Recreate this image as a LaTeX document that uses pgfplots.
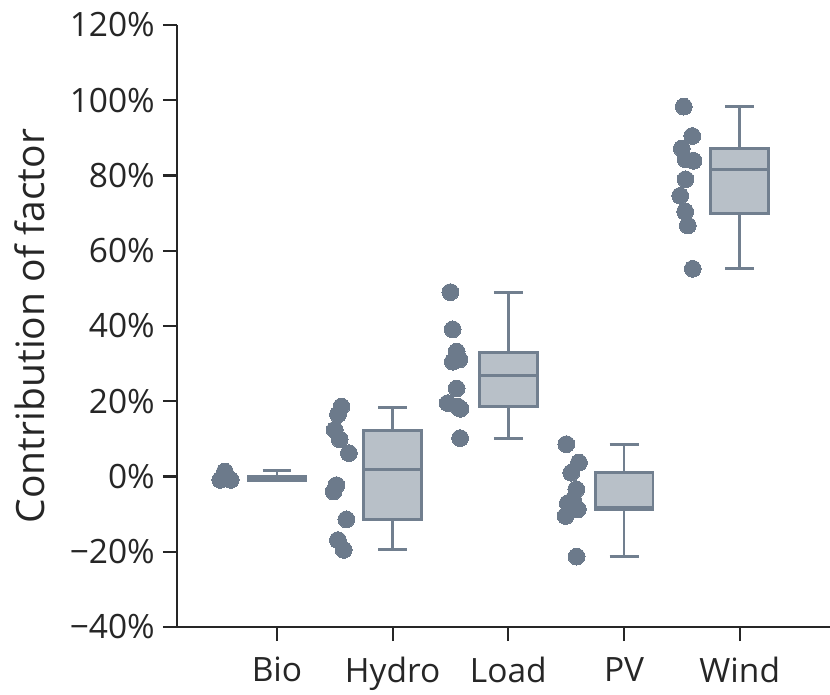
\documentclass[border=0pt]{standalone}
\usepackage{fontspec}
\setmainfont{Open Sans}
\usepackage{pgfplots}
\usepgfplotslibrary{statistics}
\pgfplotsset{compat=1.18}
\definecolor{dotcol}{RGB}{108,122,139}
\definecolor{edgecol}{RGB}{113,127,143}
\definecolor{boxcol}{RGB}{184,192,200}
\definecolor{inkcol}{RGB}{38,38,38}

\begin{document}
\begin{tikzpicture}
\begin{axis}[
    at={(0,0)}, anchor=south west,
    scale only axis, width=653pt, height=602pt,
    xmin=-0.864, xmax=4.78, ymin=-40, ymax=120,
    axis x line*=bottom, axis y line*=left,
    axis line style={-, line width=2.5pt, inkcol},
    xtick={0,1,2,3,4},
    xticklabels={Bio,Hydro,Load,PV,Wind},
    ytick={-40,-20,0,20,40,60,80,100,120},
    yticklabels={−40\%,−20\%,0\%,20\%,40\%,60\%,80\%,100\%,120\%},
    tick align=outside, major tick length=14pt,
    tick style={line width=2.2pt, inkcol},
    ticklabel style={font=\fontsize{33.5}{40}\selectfont, text=inkcol},
    xticklabel style={inner sep=2pt, yshift=-14pt},
    yticklabel style={inner sep=2pt, xshift=-6pt},
    ylabel={Contribution of factor},
    ylabel style={at={(axis description cs:-0.226,0.5)}, anchor=center,
        font=\fontsize{39}{46}\selectfont, text=inkcol},
    boxplot/draw direction=y,
    boxplot/every box/.style={draw=edgecol, fill=boxcol, line width=2.8pt},
    boxplot/every whisker/.style={draw=edgecol, line width=2.8pt},
    boxplot/every median/.style={draw=edgecol, line width=2.8pt},
    clip=false,
]

% boxes (right of each tick)
\addplot[draw=edgecol, line width=2.8pt, boxplot prepared={
    lower whisker=-1.2, lower quartile=-1.0, median=-0.7,
    upper quartile=0.0, upper whisker=1.5,
    draw position=0, box extend=0.5, whisker extend=0.25}] coordinates {};
\addplot[draw=edgecol, line width=2.8pt, boxplot prepared={
    lower whisker=-19.5, lower quartile=-11.4, median=1.9,
    upper quartile=12.2, upper whisker=18.4,
    draw position=1, box extend=0.5, whisker extend=0.25}] coordinates {};
\addplot[draw=edgecol, line width=2.8pt, boxplot prepared={
    lower whisker=10.2, lower quartile=18.6, median=26.8,
    upper quartile=32.9, upper whisker=49.0,
    draw position=2, box extend=0.5, whisker extend=0.25}] coordinates {};
\addplot[draw=edgecol, line width=2.8pt, boxplot prepared={
    lower whisker=-21.3, lower quartile=-8.9, median=-8.2,
    upper quartile=1.1, upper whisker=8.6,
    draw position=3, box extend=0.5, whisker extend=0.25}] coordinates {};
\addplot[draw=edgecol, line width=2.8pt, boxplot prepared={
    lower whisker=55.2, lower quartile=70.0, median=81.7,
    upper quartile=87.2, upper whisker=98.3,
    draw position=4, box extend=0.5, whisker extend=0.25}] coordinates {};

% individual values (left of each tick)
\pgfplotsset{dots/.style={only marks, mark=*, mark size=8.4pt,
    color=dotcol, mark options={draw=dotcol, fill=dotcol, line width=0pt}}}
\addplot[dots] coordinates {
    (-0.45,1.3) (-0.49,-0.9) (-0.40,-0.9) (-0.43,-0.3) (-0.46,0.2)};
\addplot[dots] coordinates {
    (0.557,18.6) (0.527,16.5) (0.499,12.4) (0.542,9.9) (0.622,6.2)
    (0.514,-2.3) (0.490,-4.0) (0.600,-11.4) (0.527,-16.9) (0.577,-19.5)};
\addplot[dots] coordinates {
    (1.499,49.0) (1.519,39.1) (1.553,33.2) (1.577,31.1) (1.520,30.5)
    (1.553,23.4) (1.476,19.5) (1.562,18.6) (1.585,18.0) (1.583,10.2)};
\addplot[dots] coordinates {
    (2.501,8.6) (2.610,3.7) (2.544,1.0) (2.587,-3.4) (2.514,-7.1)
    (2.601,-8.7) (2.495,-10.5) (2.550,-8.5) (2.560,-6.2) (2.590,-21.3)};
\addplot[dots] coordinates {
    (3.516,98.3) (3.589,90.5) (3.499,87.2) (3.531,84.3) (3.600,83.9)
    (3.531,79.0) (3.485,74.6) (3.528,70.4) (3.551,66.7) (3.594,55.2)};
\end{axis}
\pgfresetboundingbox
\path[use as bounding box] (-177pt,-67pt) rectangle (653pt,627pt);
\end{tikzpicture}
\end{document}
